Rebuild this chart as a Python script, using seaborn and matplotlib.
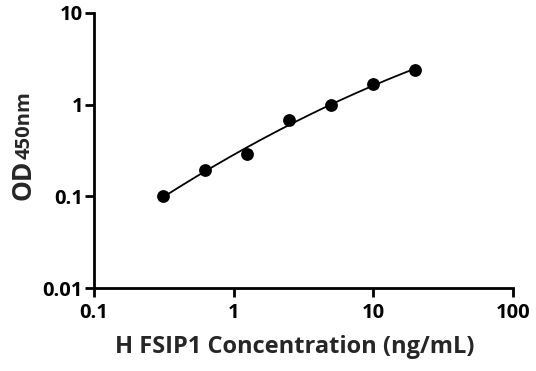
import numpy as np
import pandas as pd
import matplotlib
matplotlib.use("Agg")
import matplotlib.pyplot as plt
import seaborn as sns

conc = [0.3125, 0.625, 1.25, 2.5, 5, 10, 20]
od = [0.100, 0.195, 0.287, 0.685, 1.00, 1.66, 2.41]
x_ticks = [0.1, 1, 10, 100]
x_tick_labels = ["0.1", "1", "10", "100"]
y_ticks = [0.01, 0.1, 1, 10]
y_tick_labels = ["0.01", "0.1", "1", "10"]

sns.set_style("ticks")
plt.rcParams['font.family'] = ['Open Sans', 'DejaVu Sans']
plt.rcParams['font.weight'] = 'bold'

fig = plt.figure(figsize=(5.36, 3.71), dpi=100)
ax = fig.add_axes([94/536, 1-288/371, (513-94)/536, (288-13)/371])

# fitted curve (quadratic in log-log space)
lx = np.log10(conc)
ly = np.log10(od)
coef = np.polyfit(lx, ly, 2)
xs = np.linspace(lx.min(), lx.max(), 200)
fit = pd.DataFrame({"x": 10**xs, "y": 10**np.polyval(coef, xs)})
sns.lineplot(data=fit, x="x", y="y", ax=ax, color="black", lw=1.3)

df = pd.DataFrame({"conc": conc, "od": od})
sns.scatterplot(data=df, x="conc", y="od", ax=ax, color="black", s=85,
                edgecolor="black", linewidth=0, zorder=3)

ax.set_xscale("log")
ax.set_yscale("log")
ax.set_xlim(0.1, 100)
ax.set_ylim(0.01, 10)
ax.set_xticks(x_ticks)
ax.set_xticklabels(x_tick_labels)
ax.set_yticks(y_ticks)
ax.set_yticklabels(y_tick_labels)
ax.minorticks_off()
for s in ["top", "right"]:
    ax.spines[s].set_visible(False)
for s in ["left", "bottom"]:
    ax.spines[s].set_linewidth(2)
    ax.spines[s].set_color("black")
ax.tick_params(axis="both", length=6.5, width=2, color="black",
               labelsize=14.5, labelcolor="black")
ax.tick_params(axis="x", pad=4)
ax.tick_params(axis="y", pad=1.5)
for lab in ax.get_xticklabels() + ax.get_yticklabels():
    lab.set_fontweight("bold")

ax.set_xlabel("H FSIP1 Concentration (ng/mL)", fontsize=17, fontweight="bold", labelpad=9)
ax.xaxis.label.set_x((295 - 94) / 419)
ax.set_ylabel("")

H = fig.bbox.height
t_od = fig.text(31/536, 1-200/371, "OD", rotation=90, rotation_mode="anchor",
                ha="left", va="baseline", fontsize=19, fontweight="bold")
fig.canvas.draw()
bb = t_od.get_window_extent(fig.canvas.get_renderer())
fig.text(30/536, (bb.y1 + 0.5) / H, "450nm", rotation=90, rotation_mode="anchor",
         ha="left", va="baseline", fontsize=14.5, fontweight="bold")

fig.savefig("out.png", dpi=100)
